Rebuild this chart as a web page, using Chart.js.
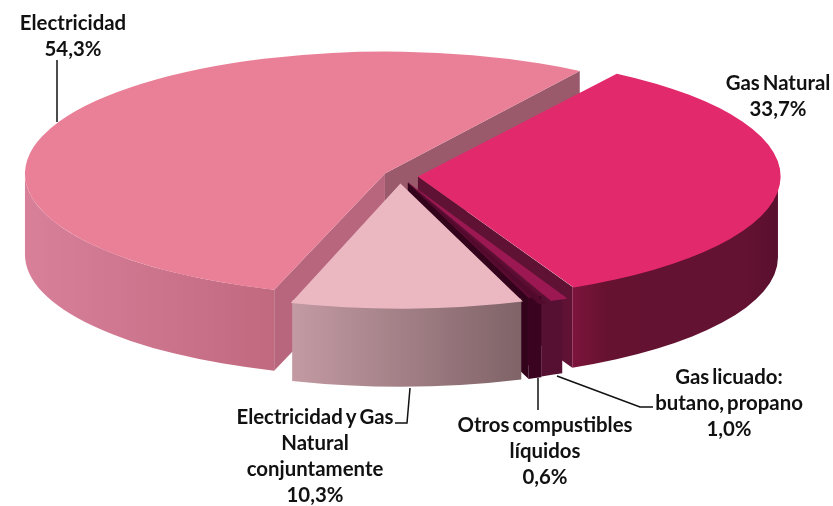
<!DOCTYPE html>
<html>
<head>
<meta charset="utf-8">
<style>
  html, body { margin: 0; padding: 0; background: #fff; }
  canvas { display: block; }
</style>
<script src="https://cdn.jsdelivr.net/npm/chart.js@4/dist/chart.umd.min.js"></script>
</head>
<body>
<canvas id="pie" width="833" height="506"></canvas>
<script>
// datos
const categories = ['Electricidad', 'Gas Natural', 'Gas licuado: butano, propano', 'Otros compustibles líquidos', 'Electricidad y Gas Natural conjuntamente'];
const shares = [54.3, 33.7, 1.0, 0.6, 10.3];
const labelLines = [
  ['Electricidad'],
  ['Gas Natural'],
  ['Gas licuado:', 'butano, propano'],
  ['Otros compustibles', 'líquidos'],
  ['Electricidad y Gas', 'Natural', 'conjuntamente']
];

// colores
const topColors = ['#ea8098', '#e2296c', '#9c1852', '#520a2c', '#ebb8c2'];
const wallStops = [
  ['#d8809a', '#c0697f'],
  ['#7d143c', '#66122f', '#641231', '#641231', '#641231', '#641231', '#5a0f2e'],
  ['#561031', '#561031'],
  ['#3a0420', '#3a0420'],
  ['#c39aa3', '#7f6367']
];
const faceColors = ['#9a5a6c', '#5f1233', '#5c0c32', '#33021b', '#000'];
const startFaceColors = ['#b8667e', '#000', '#000', '#000', '#000'];

// geometria de la tarta (plano inclinado)
const RADIUS = 200;
const screenX = 400, screenY = 176;
const scaleX = 1.8, scaleY = 0.61;
const depth = 81;
const explode = [37, 40, 44, 49, 50];

// texto y lineas guia
const labelX = [73, 778, 729, 545, 315];
const labelY = [23, 83, 377, 425, 417];
const lineH = 26;
const leaders = [
  [[57, 60], [57, 122]],
  [],
  [[557, 376], [640, 407], [653, 407]],
  [[538, 378], [538, 410]],
  [[410, 388], [407, 423], [395, 423]]
];

const tilt3d = {
  id: 'tilt3d',
  beforeDatasetsDraw(chart) {
    const ctx = chart.ctx;
    const arcs = chart.getDatasetMeta(0).data;
    arcs.forEach((arc, i) => {
      const mid = (arc.startAngle + arc.endAngle) / 2;
      const off = arc.options.offset / 4;
      let a = arc.startAngle, b = arc.endAngle;
      // Chart.js agranda el radio con el offset si la porcion pasa de media vuelta,
      // y ademas recorta un poco sus angulos
      if (arc.circumference >= Math.PI) {
        arc.outerRadius = RADIUS - off;
        const alpha = b - a;
        const trim = (alpha - (alpha * RADIUS - off / Math.PI) / RADIUS) / 2;
        a += trim;
        b -= trim;
      }
      const cx = screenX + (Math.cos(mid) * off) * scaleX;
      const cy = screenY + (Math.sin(mid) * off) * scaleY;
      const rx = RADIUS * scaleX;
      const ry = RADIUS * scaleY;

      // cara radial
      const face = (ang, color) => {
        ctx.beginPath();
        ctx.moveTo(cx, cy);
        ctx.lineTo(cx + rx * Math.cos(ang), cy + ry * Math.sin(ang));
        ctx.lineTo(cx + rx * Math.cos(ang), cy + ry * Math.sin(ang) + depth);
        ctx.lineTo(cx, cy + depth);
        ctx.closePath();
        ctx.fillStyle = color;
        ctx.fill();
      };
      if (Math.cos(a) < 0) face(a, startFaceColors[i]);
      if (Math.cos(b) > 0) face(b, faceColors[i]);

      // pared exterior, solo la mitad de delante
      for (let k = -1; k <= 1; k++) {
        const from = Math.max(a, 2 * Math.PI * k);
        const to = Math.min(b, Math.PI + 2 * Math.PI * k);
        if (to <= from) continue;
        const x0 = cx + rx * Math.cos(to), x1 = cx + rx * Math.cos(from);
        const grad = ctx.createLinearGradient(x0, 0, x1, 0);
        wallStops[i].forEach((c, n) => grad.addColorStop(n / (wallStops[i].length - 1), c));
        ctx.beginPath();
        ctx.ellipse(cx, cy, rx, ry, 0, from, to);
        ctx.ellipse(cx, cy + depth, rx, ry, 0, to, from, true);
        ctx.closePath();
        ctx.fillStyle = grad;
        ctx.fill();
      }
    });
    // caras superiores: las dibuja Chart.js con esta transformacion
    ctx.save();
    ctx.translate(screenX, screenY);
    ctx.scale(scaleX, scaleY);
    ctx.translate(-arcs[0].x, -arcs[0].y);
  },
  afterDatasetsDraw(chart) {
    chart.ctx.restore();
  },
  afterDraw(chart) {
    const ctx = chart.ctx;
    ctx.save();
    ctx.strokeStyle = '#111';
    ctx.lineWidth = 1.5;
    leaders.forEach(pts => {
      if (!pts.length) return;
      ctx.beginPath();
      pts.forEach((p, n) => n ? ctx.lineTo(p[0], p[1]) : ctx.moveTo(p[0], p[1]));
      ctx.stroke();
    });
    ctx.fillStyle = '#111';
    ctx.font = 'bold 20.4px Lato';
    ctx.wordSpacing = '-2px';
    ctx.textAlign = 'center';
    ctx.textBaseline = 'middle';
    labelLines.forEach((lines, i) => {
      const all = lines.concat(shares[i].toFixed(1).replace('.', ',') + '%');
      all.forEach((t, n) => ctx.fillText(t, labelX[i], labelY[i] + n * lineH));
    });
    ctx.restore();
  }
};

new Chart(document.getElementById('pie'), {
  type: 'pie',
  data: {
    labels: categories,
    datasets: [{
      data: shares,
      backgroundColor: topColors,
      borderWidth: 0,
      offset: explode,
      clip: false
    }]
  },
  options: {
    responsive: false,
    animation: false,
    radius: RADIUS,
    rotation: 197.5,
    events: [],
    plugins: { legend: { display: false }, tooltip: { enabled: false } }
  },
  plugins: [tilt3d]
});
</script>
</body>
</html>
